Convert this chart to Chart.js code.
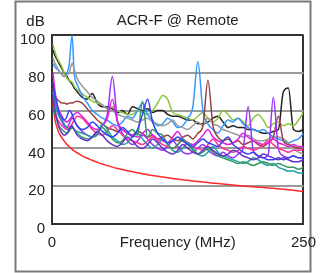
<!DOCTYPE html>
<html><head><meta charset="utf-8">
<script src="https://cdn.jsdelivr.net/npm/chart.js@4"></script>
<style>html,body{margin:0;padding:0;background:#fff;overflow:hidden}canvas{display:block}</style>
</head><body><canvas id="c" width="326" height="273"></canvas>
<script>
const TITLE = 'ACR-F @ Remote';
const Y_UNIT = 'dB';
const X_TICKS = [0, 125, 250];
const X_TICK_LABELS = ['0', 'Frequency (MHz)', '250'];
const FREQ = [1,3,5,7,10,12,15,17,20,22,25,
  30,35,40,45,50,55,60,65,70,75,
  80,85,90,95,100,105,110,115,120,125,
  130,135,140,145,150,155,160,165,170,175,
  180,185,190,195,200,205,210,215,220,225,
  230,235,240,245,250];
const LIMIT = [64,55,51,48,45.5,44,42,41,39.5,38.7,37.7,
  36,34.8,33.7,32.6,31.7,30.9,30.1,29.4,28.8,28.2,
  27.6,27.1,26.6,26.1,25.7,25.3,24.9,24.5,24.1,23.8,
  23.4,23.1,22.8,22.5,22.2,21.9,21.6,21.4,21.1,20.9,
  20.6,20.4,20.1,19.9,19.7,19.5,19.3,19.1,18.9,18.7,
  18.4,18.1,17.8,17.5,17.2];
const PAIR_BLACK = [92,89,87,85,82,80,78,76,74,72,70,
  67,66,69,64,62,62,61,59,60,58,
  62,61,60,61,59,60,60,58,57,57,
  56,55,55,53,53,54,56,57,54,51,
  52,51,51,50,50,49,48,48,49,50,
  70,72,50,49,50];
const PAIR_LIME = [95,91,88,86,83,80,77,76,75,73,71,
  69,67,65,64,63,61,62,60,59,58,
  58,60,59,58,60,64,68,66,59,58,
  57,56,55,57,59,56,54,56,60,58,
  55,56,54,52,56,58,55,51,53,54,
  52,53,52,55,59];
const PAIR_SKY = [85,83,82,81,79,78,80,84,100,80,74,
  68,64,60,58,56,55,53,52,54,57,
  56,60,64,58,55,52,53,56,54,51,
  52,56,62,86,60,53,50,48,52,55,
  54,56,53,51,50,49,50,48,46,45,
  44,43,44,45,48];
const PAIR_GRAY = [88,85,83,81,79,78,79,80,85,82,77,
  73,70,67,65,63,61,60,58,57,56,
  55,54,55,56,54,53,52,53,55,52,
  51,50,52,54,52,56,53,52,50,49,
  48,47,46,47,45,44,44,45,46,46,
  45,43,40,38,37];
const PAIR_BROWN = [72,68,66,65,64,64,63.5,64,64,64.5,65,
  64,61,58,55,53,51,50,49,50,48,
  47,49,48,46,47,45,46,47,45,44,
  46,47,45,48,52,76,52,46,44,45,
  43,44,42,43,44,42,41,43,46,57,
  44,42,41,40,40];
const PAIR_PURPLE = [70,64,60,57,54,52,51,53,56,55,52,
  49,47,46,48,52,58,78,55,48,44,
  42,44,47,45,42,40,39,41,44,41,
  38,37,38,40,42,39,37,36,38,36,
  35,37,40,62,39,36,35,37,67,40,
  36,35,36,35,35];
const PAIR_MAGENTA = [80,70,64,60,57,55,54,55,57,58,59,
  57,54,51,50,52,56,66,54,50,48,
  47,46,48,50,47,45,44,43,46,49,
  45,43,42,44,47,50,46,44,43,42,
  43,45,48,46,44,43,42,43,45,43,
  42,41,42,41,41];
const PAIR_PINK = [66,60,56,54,52,51,50,51,53,55,57,
  56,53,50,48,47,49,52,50,47,45,
  44,43,42,44,46,44,42,41,40,42,
  44,43,41,40,39,42,45,42,40,39,
  38,39,41,40,39,40,42,44,42,40,
  39,38,39,39,39];
const PAIR_TEAL = [70,64,60,57,55,53,51,50,51,50,49,
  48,47,46,47,53,50,46,44,42,43,
  46,48,45,42,40,42,45,42,39,38,
  40,43,40,37,36,38,41,38,36,35,
  34,33,32,33,35,34,32,31,32,30,
  29,28,28,27,27];
const PAIR_GREEN = [62,58,55,52,50,49,48,49,51,50,48,
  46,45,46,49,51,48,45,43,44,48,
  50,47,65,46,50,48,47,42,40,42,
  45,42,39,37,38,40,38,36,35,34,
  33,32,33,32,31,32,33,32,31,32,
  31,30,30,29,30];
const PAIR_BLUE = [75,68,63,59,56,55,57,60,58,55,52,
  50,51,54,52,49,47,46,48,51,49,
  46,50,58,66,54,48,45,43,44,46,
  44,42,41,43,45,43,42,41,44,46,
  42,40,38,37,38,36,35,34,34,35,
  34,35,36,35,35];
const PAIR_VIOLET = [68,60,55,51,48,47,48,50,52,50,47,
  45,44,46,49,47,44,42,41,43,46,
  44,41,40,42,45,43,40,38,37,39,
  42,40,38,37,39,41,39,37,36,37,
  39,38,36,35,34,35,37,36,35,34,
  35,34,33,33,34];

const SERIES = [
  ['Limit', '#ff2a2a', LIMIT],
  ['Pair 1', '#222222', PAIR_BLACK],
  ['Pair 2', '#8cc63e', PAIR_LIME],
  ['Pair 3', '#3399ff', PAIR_SKY],
  ['Pair 4', '#9a9a9a', PAIR_GRAY],
  ['Pair 5', '#994444', PAIR_BROWN],
  ['Pair 6', '#9933ff', PAIR_PURPLE],
  ['Pair 7', '#e020e0', PAIR_MAGENTA],
  ['Pair 8', '#ff3399', PAIR_PINK],
  ['Pair 9', '#20a0a0', PAIR_TEAL],
  ['Pair 10', '#339966', PAIR_GREEN],
  ['Pair 11', '#3344ee', PAIR_BLUE],
  ['Pair 12', '#6633cc', PAIR_VIOLET]
];

const FONT = 'Liberation Sans, Arial, sans-serif';

const decor = {
  id: 'decor',
  beforeDraw(chart) {
    const c = chart.ctx;
    c.save();
    c.fillStyle = '#fff';
    c.fillRect(0, 0, chart.width, chart.height);
    c.strokeStyle = '#7a7a7a';
    c.lineWidth = 2;
    c.strokeRect(15.5, 1.5, 295, 270);
    c.restore();
  },
  afterDraw(chart) {
    const c = chart.ctx;
    c.save();
    c.fillStyle = '#222';
    c.font = '15px ' + FONT;
    c.textAlign = 'center';
    c.textBaseline = 'middle';
    c.fillText(Y_UNIT, 35.5, 22);
    c.restore();
  }
};

new Chart(document.getElementById('c'), {
  type: 'line',
  data: {
    datasets: SERIES.map(([name, color, vals]) => ({
      label: name,
      data: FREQ.map((f, i) => ({x: f, y: vals[i]})),
      borderColor: color,
      backgroundColor: color,
      borderWidth: 1.5,
      pointRadius: 0,
      fill: false,
      cubicInterpolationMode: 'monotone'
    })).reverse()
  },
  options: {
    responsive: false,
    animation: false,
    devicePixelRatio: 1,
    layout: {padding: {left: 0, right: 18, top: 0, bottom: 0}},
    plugins: {
      legend: {display: false},
      tooltip: {enabled: false},
      title: {
        display: true, text: TITLE, fullSize: false,
        color: '#222', font: {family: FONT, size: 15, weight: 'normal'},
        padding: {top: 12, bottom: 5}
      }
    },
    scales: {
      x: {
        type: 'linear', min: 0, max: 250,
        afterBuildTicks: s => { s.ticks = X_TICKS.map(v => ({value: v})); },
        afterFit: s => { s.height = 49; },
        ticks: {
          callback: (v, i) => X_TICK_LABELS[i],
          autoSkip: false, maxRotation: 0, padding: 10,
          color: '#222', font: {family: FONT, size: 15}
        },
        grid: {
          drawTicks: false, lineWidth: 2,
          color: ctx => (ctx.tick && (ctx.tick.value === 250 || ctx.tick.value === 0)) ? '#333' : 'rgba(0,0,0,0)'
        },
        border: {display: true, color: '#333', width: 2}
      },
      y: {
        min: 0, max: 100,
        afterFit: s => { s.width = 52; },
        ticks: {
          stepSize: 20, padding: 7, labelOffset: 5,
          color: '#222', font: {family: FONT, size: 15}
        },
        grid: {
          drawTicks: false, lineWidth: 2,
          color: ctx => (ctx.tick && (ctx.tick.value === 100 || ctx.tick.value === 0)) ? '#333' : '#9a9a9a'
        },
        border: {display: true, color: '#333', width: 2}
      }
    }
  },
  plugins: [decor]
});
</script>
</body></html>
